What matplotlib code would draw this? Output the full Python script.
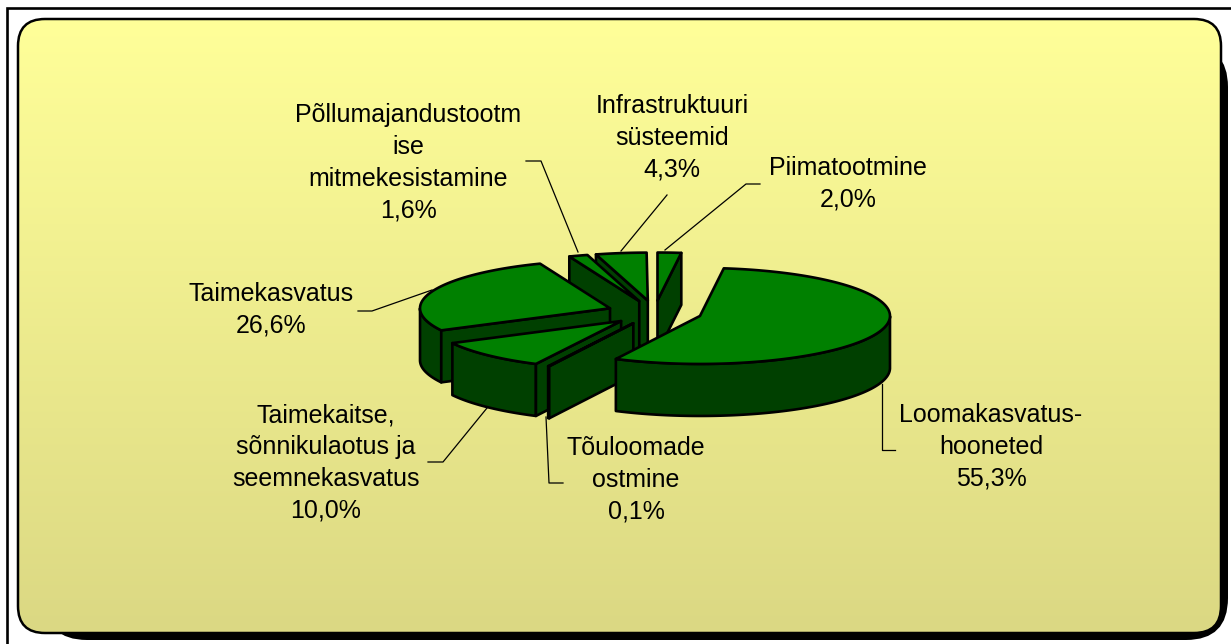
import numpy as np
import matplotlib
matplotlib.use("Agg")
import matplotlib.pyplot as plt
from matplotlib.colors import LinearSegmentedColormap
from matplotlib.patches import FancyBboxPatch, Polygon, Rectangle

plt.rcParams['font.family'] = ['Liberation Sans', 'DejaVu Sans']

# shares in %, clockwise starting from 12 o'clock
labels = ["Piimatootmine", "Loomakasvatus-\nhooneted", "Tõuloomade\nostmine",
          "Taimekaitse,\nsõnnikulaotus ja\nseemnekasvatus", "Taimekasvatus",
          "Põllumajandustootm\nise\nmitmekesistamine", "Infrastruktuuri\nsüsteemid"]
shares = [2.0, 55.3, 0.1, 10.0, 26.6, 1.6, 4.3]
share_text = ["2,0%", "55,3%", "0,1%", "10,0%", "26,6%", "1,6%", "4,3%"]

# label centres and leader lines, in pixels
label_pos = [(848, 184), (991, 447), (636, 480), (326, 463), (271, 310), (408, 163), (672, 138)]
leaders = [
    [(760, 184), (746, 184), (665, 250)],
    [(895, 450), (882, 450), (882, 384)],
    [(563, 483), (549, 483), (546, 417)],
    [(428, 462), (443, 462), (487, 408)],
    [(358, 311), (372, 311), (432, 290)],
    [(526, 161), (541, 161), (578, 252)],
    [(667, 195), (621, 251)],
]

# pie geometry
cx, cy = 654.5, 312.5
rx, ry = 190, 48
depth = 52
explode = 0.25
draw_order = [0, 6, 5, 4, 3, 2, 1]
TOP = "#008000"
SIDE = "#004000"
EDGE = "black"
lw = 1.9

fig = plt.figure(figsize=(12.31, 6.44), dpi=100)
ax = fig.add_axes([0, 0, 1, 1])
ax.set_xlim(0, 1231)
ax.set_ylim(644, 0)
ax.axis("off")

# outer frame
ax.add_patch(Rectangle((7, 8), 1300, 700, fc="white", ec="black", lw=1.9))


def panel(x0, y0, x1, y1, r=27, **kw):
    return FancyBboxPatch((x0 + r, y0 + r), x1 - x0 - 2 * r, y1 - y0 - 2 * r,
                          boxstyle=f"round,pad={r},rounding_size={r}", **kw)


# shadow then panel with gradient
ax.add_patch(panel(45, 45, 1228, 640, r=42, fc="black", ec="none"))
grad = LinearSegmentedColormap.from_list("g", ["#FFFF99", "#DBD883"])
im = ax.imshow(np.linspace(0, 1, 256).reshape(-1, 1), cmap=grad, extent=(18, 1221, 633, 19),
               aspect="auto", zorder=2)
border = panel(18, 19, 1221, 633, fc="none", ec="black", lw=1.8, zorder=3)
ax.add_patch(border)
im.set_clip_path(border)
ax.set_xlim(0, 1231)
ax.set_ylim(644, 0)


def ell(t, ox, oy):
    return ox + rx * np.cos(t), oy - ry * np.sin(t)


# slice angles from the shares
ends = 90 - np.cumsum(shares) * 3.6
starts = ends + np.array(shares) * 3.6

z = 4
for i in draw_order:
    s, e = np.radians(starts[i]), np.radians(ends[i])
    mid = (s + e) / 2
    ox = cx + explode * rx * np.cos(mid)
    oy = cy - explode * ry * np.sin(mid)
    ts = np.linspace(s, e, 300)

    # outer wall, front part only
    front = ts[np.sin(ts) <= 0]
    if len(front) > 1:
        x, y = ell(front, ox, oy)
        pts = np.r_[np.c_[x, y], np.c_[x[::-1], y[::-1] + depth]]
        ax.add_patch(Polygon(pts, fc=SIDE, ec=EDGE, lw=lw, zorder=z, joinstyle="round"))

    # cut faces that look towards the viewer
    for a, show in ((s, np.cos(s) < 0), (e, np.cos(e) > 0)):
        if show:
            x, y = ell(a, ox, oy)
            ax.add_patch(Polygon([(ox, oy), (x, y), (x, y + depth), (ox, oy + depth)],
                                 fc=SIDE, ec=EDGE, lw=lw, zorder=z, joinstyle="round"))

    # top face
    x, y = ell(ts, ox, oy)
    ax.add_patch(Polygon(np.r_[[(ox, oy)], np.c_[x, y]], fc=TOP, ec=EDGE, lw=lw, zorder=z,
                         joinstyle="round"))
    z += 1

for line in leaders:
    xs, ys = zip(*line)
    ax.plot(xs, ys, color="black", lw=0.9, zorder=3.5)

for name, pct, (lx, ly) in zip(labels, share_text, label_pos):
    ax.text(lx, ly, name + "\n" + pct, ha="center", va="center", fontsize=18,
            linespacing=1.42, color="black", zorder=20)

fig.savefig("out.png", dpi=100)
